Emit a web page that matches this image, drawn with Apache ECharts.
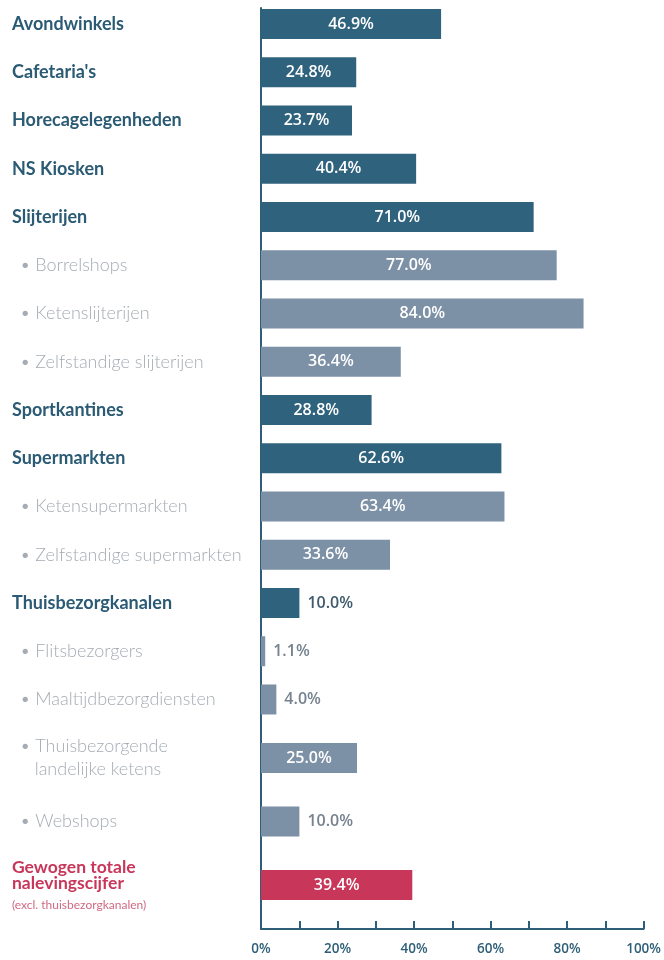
<!DOCTYPE html>
<html>
<head>
<meta charset="utf-8">
<script src="https://cdn.jsdelivr.net/npm/echarts@6/dist/echarts.min.js"></script>
<style>
  html, body { margin: 0; padding: 0; background: #fff; }
  #chart { width: 664px; height: 960px; }
</style>
</head>
<body>
<div id="chart"></div>
<script>
// categorieën, waarden en type (hoofd / sub / totaal)
const categories = [
  'Avondwinkels', "Cafetaria's", 'Horecagelegenheden', 'NS Kiosken', 'Slijterijen',
  'Borrelshops', 'Ketenslijterijen', 'Zelfstandige slijterijen', 'Sportkantines',
  'Supermarkten', 'Ketensupermarkten', 'Zelfstandige supermarkten', 'Thuisbezorgkanalen',
  'Flitsbezorgers', 'Maaltijdbezorgdiensten', 'Thuisbezorgende\nlandelijke ketens',
  'Webshops', 'Gewogen totale\nnalevingscijfer'
]
const values = [46.9, 24.8, 23.7, 40.4, 71.0, 77.0, 84.0, 36.4, 28.8, 62.6, 63.4, 33.6, 10.0, 1.1, 4.0, 25.0, 10.0, 39.4]
const kinds = ['main', 'main', 'main', 'main', 'main', 'sub', 'sub', 'sub', 'main', 'main', 'sub', 'sub', 'main', 'sub', 'sub', 'sub', 'sub', 'total']
const totalNote = '(excl. thuisbezorgkanalen)'
const xTicks = [0, 20, 40, 60, 80, 100]

// bovenste blok met gelijke rijen, onderste blok met hogere rijen
const split = 15

const colors = { main: '#2f627d', sub: '#7c90a6', total: '#c8365a' }
const outsideColors = { main: '#3f5a6c', sub: '#76828d', total: '#c8365a' }
const FONT = 'Lato, "Noto Sans", sans-serif'
const NUM_FONT = '"Open Sans", Lato, sans-serif'

const kindOf = {}
categories.forEach((c, i) => { kindOf[c] = kinds[i] })

const labelFormatter = (value) => {
  const kind = kindOf[value]
  const lines = value.split('\n')
  if (kind === 'sub') {
    return lines.map((l, i) => i === 0 ? '{sub|• ' + l + '}' : '{sub|   ' + l + '}').join('\n')
  }
  if (kind === 'total') {
    return lines.map((l, i) => (i === 0 ? '{totalFirst|' : '{total|') + l + '}').join('\n') + '\n{note|' + totalNote + '}'
  }
  return '{main|' + value + '}'
}

const yLabel = {
  align: 'left',
  margin: 249,
  formatter: labelFormatter,
  rich: {
    main: { fontFamily: FONT, fontSize: 18, fontWeight: 'bold', color: '#2b5b74', lineHeight: 22 },
    sub: { fontFamily: FONT, fontSize: 18, fontWeight: 300, color: '#a5acb3', lineHeight: 23, padding: [0, 0, 0, 8] },
    totalFirst: { fontFamily: FONT, fontSize: 17.5, fontWeight: 'bold', color: '#c8365a', lineHeight: 20, padding: [8, 0, 0, 0] },
    total: { fontFamily: FONT, fontSize: 17.5, fontWeight: 'bold', color: '#c8365a', lineHeight: 20 },
    note: { fontFamily: FONT, fontSize: 12, color: '#d06a84', lineHeight: 24 }
  }
}

const makeData = (from, to) => values.slice(from, to).map((v, j) => {
  const kind = kinds[from + j]
  const inside = v >= 20
  return {
    value: v,
    itemStyle: { color: colors[kind] },
    label: {
      position: inside ? 'inside' : 'right',
      distance: 8,
      color: inside ? '#ffffff' : outsideColors[kind]
    }
  }
})

const barLabel = {
  show: true,
  fontFamily: NUM_FONT,
  fontSize: 16,
  fontWeight: 600,
  formatter: (p) => p.value.toFixed(1) + '%'
}

const hiddenX = (gi) => ({ gridIndex: gi, type: 'value', min: 0, max: 100, show: false })
const catY = (gi, from, to) => ({
  gridIndex: gi,
  type: 'category',
  inverse: true,
  data: categories.slice(from, to),
  axisLine: { show: false },
  axisTick: { show: false },
  axisLabel: yLabel
})

const chart = echarts.init(document.getElementById('chart'))

const option = {
  backgroundColor: '#ffffff',
  animation: false,
  grid: [
    // frame met assen
    { left: 261, right: 19, top: 8, bottom: 31 },
    // bovenste rijen
    { left: 261, right: 19, top: -1.2, bottom: 236.4 },
    // onderste rijen
    { left: 261, right: 19, top: 726.25, bottom: 43.25 }
  ],
  xAxis: [
    {
      gridIndex: 0,
      type: 'value',
      min: 0,
      max: 100,
      interval: 10,
      axisLine: { show: true, lineStyle: { color: '#2f5f78', width: 2 } },
      axisTick: { show: true, inside: true, length: 8, lineStyle: { color: '#2f5f78', width: 2 } },
      splitLine: { show: false },
      axisLabel: {
        margin: 13,
        fontFamily: NUM_FONT,
        fontSize: 13.5,
        fontWeight: 600,
        color: '#2f5f78',
        formatter: (v) => xTicks.includes(v) ? v + '%' : ''
      }
    },
    hiddenX(1),
    hiddenX(2)
  ],
  yAxis: [
    {
      gridIndex: 0,
      type: 'value',
      min: 0,
      max: 1,
      axisLine: { show: true, lineStyle: { color: '#2f5f78', width: 2 } },
      axisTick: { show: false },
      axisLabel: { show: false },
      splitLine: { show: false }
    },
    catY(1, 0, split),
    catY(2, split, categories.length)
  ],
  series: [
    {
      type: 'bar',
      xAxisIndex: 1,
      yAxisIndex: 1,
      barWidth: 30,
      label: barLabel,
      data: makeData(0, split)
    },
    {
      type: 'bar',
      xAxisIndex: 2,
      yAxisIndex: 2,
      barWidth: 30,
      label: barLabel,
      data: makeData(split, categories.length)
    }
  ]
}

chart.setOption(option)
window.addEventListener('resize', () => chart.resize())
</script>
</body>
</html>
